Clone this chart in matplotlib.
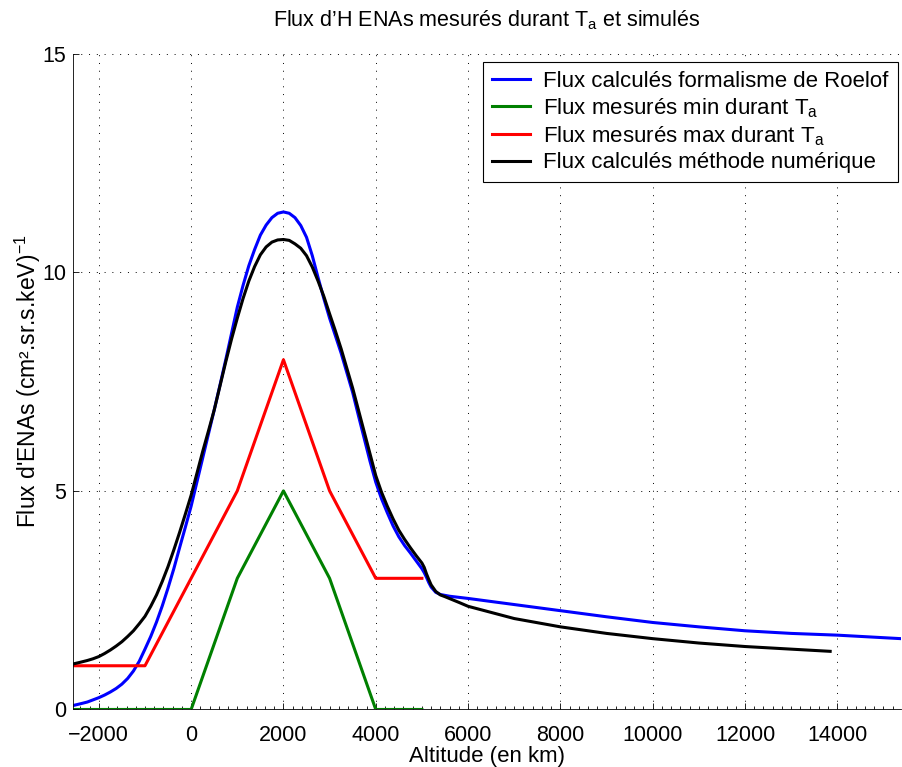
import numpy as np
import matplotlib
matplotlib.use("Agg")
import matplotlib.pyplot as plt
from matplotlib.ticker import MultipleLocator

plt.rcParams['font.family'] = ['Liberation Sans', 'DejaVu Sans']
plt.rcParams['mathtext.fontset'] = 'custom'
plt.rcParams['mathtext.rm'] = 'Liberation Sans'

# valeurs (altitude en km, flux)
alt_roelof = [-2560, -2400, -2250, -2125, -2000, -1875, -1750, -1625, -1500, -1375,
              -1250, -1125, -1000, -875, -750, -625, -500, -375, -250, -125,
              0, 125, 250, 375, 500, 625, 750, 875, 1000, 1125, 1250, 1375, 1500,
              1625, 1750, 1875, 2000, 2125, 2250, 2375, 2500, 2625, 2750, 2875,
              3000, 3125, 3250, 3375, 3500, 3625, 3750, 3875, 4000, 4125, 4250,
              4375, 4500, 4625, 4750, 4875, 5000, 5050, 5100, 5150, 5200, 5300,
              5400, 5600, 6000, 7000, 8000, 9000, 10000, 11000, 12000, 13000,
              14000, 15380]
flux_roelof = [0.09, 0.13, 0.17, 0.22, 0.27, 0.33, 0.40, 0.48, 0.58, 0.71,
               0.88, 1.1, 1.38, 1.67, 2.0, 2.37, 2.78, 3.22, 3.7, 4.17,
               4.65, 5.2, 5.75, 6.3, 6.85, 7.42, 8.0, 8.6, 9.2, 9.7, 10.15, 10.52, 10.85,
               11.08, 11.25, 11.35, 11.38, 11.35, 11.25, 11.07, 10.8, 10.38, 9.88, 9.4,
               8.95, 8.55, 8.15, 7.7, 7.25, 6.72, 6.2, 5.68, 5.2, 4.82, 4.5,
               4.2, 3.95, 3.75, 3.58, 3.4, 3.22, 3.13, 3.02, 2.9, 2.8, 2.68,
               2.63, 2.59, 2.54, 2.40, 2.26, 2.12, 1.99, 1.89, 1.80, 1.74,
               1.70, 1.62]

alt_mesure = [-2560, -1000, 0, 1000, 2000, 3000, 4000, 5000]
flux_min = [0, 0, 0, 3, 5, 3, 0, 0]
flux_max = [1, 1, 3, 5, 8, 5, 3, 3]

alt_num = [-2560, -2400, -2250, -2125, -2000, -1875, -1750, -1625, -1500, -1375,
           -1250, -1125, -1000, -875, -750, -625, -500, -375, -250, -125,
           0, 125, 250, 375, 500, 625, 750, 875, 1000, 1125, 1250, 1375, 1500,
           1625, 1750, 1875, 2000, 2125, 2250, 2375, 2500, 2625, 2750, 2875,
           3000, 3125, 3250, 3375, 3500, 3625, 3750, 3875, 4000, 4125, 4250,
           4375, 4500, 4625, 4750, 4875, 5000, 5050, 5100, 5150, 5200, 5300,
           5400, 5500, 5800, 6000, 7000, 8000, 9000, 10000, 11000, 12000,
           13000, 13845]
flux_num = [1.04, 1.08, 1.12, 1.16, 1.21, 1.28, 1.36, 1.45, 1.55, 1.67,
            1.8, 1.96, 2.13, 2.36, 2.62, 2.93, 3.27, 3.65, 4.05, 4.47,
            4.9, 5.4, 5.9, 6.37, 6.85, 7.4, 7.95, 8.47, 8.95, 9.4, 9.8, 10.13, 10.4,
            10.58, 10.69, 10.74, 10.75, 10.73, 10.65, 10.55, 10.38, 10.12, 9.8, 9.45,
            9.05, 8.66, 8.25, 7.8, 7.35, 6.85, 6.35, 5.85, 5.35, 4.97, 4.65,
            4.36, 4.1, 3.89, 3.7, 3.52, 3.35, 3.25, 3.1, 2.97, 2.85, 2.7,
            2.62, 2.58, 2.45, 2.36, 2.08, 1.89, 1.74, 1.62, 1.52, 1.44,
            1.38, 1.33]

fig = plt.figure(figsize=(9.02, 7.67), dpi=100)
ax = fig.add_axes([0.0809, 0.075, 0.918, 0.855])

lw = 2.2
kw = dict(lw=lw, solid_joinstyle='round')
ax.plot(alt_roelof, flux_roelof, color=(0, 0, 1),
        label='Flux calculés formalisme de Roelof', **kw)
ax.plot(alt_mesure, flux_min, color=(0, 0.5, 0),
        label=r'Flux mesurés min durant T$_\mathregular{a}$', **kw)
ax.plot(alt_mesure, flux_max, color=(1, 0, 0),
        label=r'Flux mesurés max durant T$_\mathregular{a}$', **kw)
ax.plot(alt_num, flux_num, color='k',
        label='Flux calculés méthode numérique', **kw)

ax.set_xlim(alt_roelof[0], alt_roelof[-1])
ax.set_ylim(0, 15)
ax.xaxis.set_major_locator(MultipleLocator(2000))
ax.xaxis.set_minor_locator(MultipleLocator(200))
ax.yaxis.set_major_locator(MultipleLocator(5))
ax.tick_params(which='both', direction='in', labelsize=15.5, width=0.6)
ax.tick_params(which='major', length=4.5)
ax.tick_params(which='minor', length=2)
ax.tick_params(axis='x', pad=11)
ax.tick_params(axis='y', pad=5)
ax.tick_params(axis='y', which='minor', left=False)
ax.grid(True, which='major', color='k', linestyle=(0, (1, 7)), lw=0.7)

for s in ['top', 'right']:
    ax.spines[s].set_visible(False)
for s in ['left', 'bottom']:
    ax.spines[s].set_linewidth(0.6)

ax.set_title(r"Flux d’H ENAs mesurés durant T$_\mathregular{a}$ et simulés",
             fontsize=15.5, pad=20)
ax.set_xlabel('Altitude (en km)', fontsize=16, labelpad=0)
ax.set_ylabel(r"Flux d'ENAs (cm².sr.s.keV)$^\mathregular{-1}$", fontsize=16.5)
ax.yaxis.set_label_coords(-0.036, 0.5)

leg = ax.legend(loc='upper right', bbox_to_anchor=(0.996, 0.9875), fontsize=16,
                fancybox=False, framealpha=1, edgecolor='k', handlelength=1.7,
                handletextpad=0.6, borderpad=0.4, labelspacing=0.2,
                borderaxespad=0)
leg.get_frame().set_linewidth(0.8)

fig.savefig('out.png', dpi=100)
